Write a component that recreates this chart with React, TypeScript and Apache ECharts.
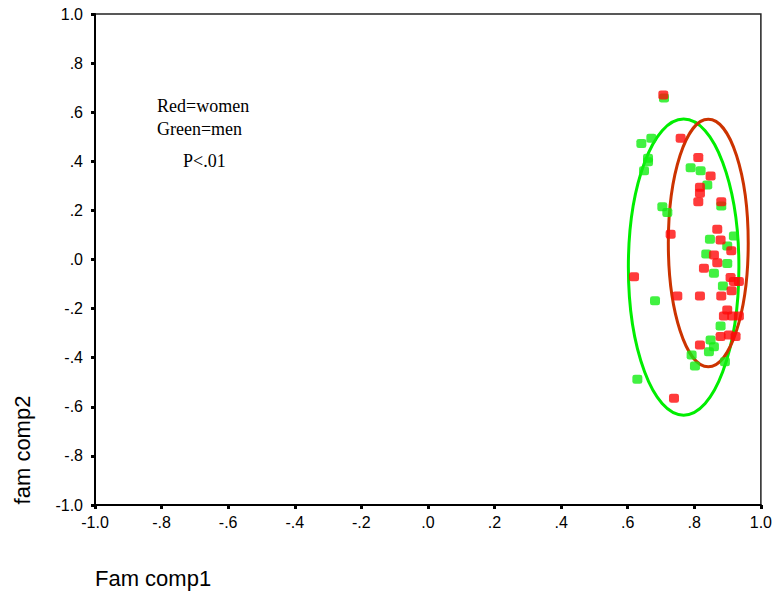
import React, { useEffect, useRef } from "react";
import * as echarts from "echarts";

// Women (red) points: [Fam comp1, fam comp2]
const womenPoints: number[][] = [
  [0.707, 0.670], [0.759, 0.494], [0.812, 0.415], [0.849, 0.340], [0.817, 0.294],
  [0.817, 0.270], [0.812, 0.235], [0.881, 0.235], [0.729, 0.103], [0.869, 0.123],
  [0.879, 0.079], [0.911, 0.036], [0.859, 0.018], [0.869, -0.013], [0.829, -0.036],
  [0.619, -0.070], [0.909, -0.073], [0.919, -0.090], [0.934, -0.090], [0.912, -0.127],
  [0.749, -0.149], [0.817, -0.149], [0.881, -0.149], [0.899, -0.206], [0.889, -0.230],
  [0.914, -0.230], [0.934, -0.230], [0.879, -0.314], [0.904, -0.308], [0.924, -0.314],
  [0.817, -0.348], [0.739, -0.565],
];

// Men (green) points
const menPoints: number[][] = [
  [0.709, 0.658], [0.671, 0.494], [0.641, 0.473], [0.661, 0.412], [0.661, 0.398],
  [0.649, 0.362], [0.789, 0.374], [0.819, 0.362], [0.839, 0.303], [0.881, 0.218],
  [0.704, 0.215], [0.719, 0.191], [0.919, 0.096], [0.847, 0.082], [0.899, 0.055],
  [0.836, 0.022], [0.899, -0.016], [0.859, -0.056], [0.886, -0.108], [0.682, -0.168],
  [0.879, -0.271], [0.849, -0.328], [0.859, -0.355], [0.844, -0.376], [0.792, -0.389],
  [0.802, -0.434], [0.892, -0.416], [0.629, -0.488],
];

// Ellipses: [centerX, centerY, radiusX, radiusY]
const menEllipse: number[][] = [[0.768, -0.031, 0.166, 0.603]];
const womenEllipse: number[][] = [[0.842, 0.067, 0.12, 0.504]];

const xTickLabels = ["-1.0", "-.8", "-.6", "-.4", "-.2", ".0", ".2", ".4", ".6", ".8", "1.0"];
const yTickLabels = ["-1.0", "-.8", "-.6", "-.4", "-.2", ".0", ".2", ".4", ".6", ".8", "1.0"];

const annotations = ["Red=women", "Green=men", "P<.01"];
const xTitle = "Fam comp1";
const yTitle = "fam comp2";

const tickLabel = (labels: string[]) => (v: number) => {
  const i = Math.round((v + 1) / 0.2);
  return labels[i] ?? "";
};

const ellipseRender = (color: string) => (params: any, api: any) => {
  const c = api.coord([api.value(0), api.value(1)]);
  const s = api.size([api.value(2), api.value(3)]);
  return {
    type: "ellipse",
    shape: { cx: c[0], cy: c[1], rx: s[0], ry: s[1] },
    style: { fill: "none", stroke: color, lineWidth: 3 },
  };
};

const serifFont = "18px 'Liberation Serif', 'Times New Roman', serif";
const titleFont = "22px 'Liberation Sans', Arial, sans-serif";

export default function App() {
  const ref = useRef<HTMLDivElement>(null);
  useEffect(() => {
    if (!ref.current) return;
    const chart = echarts.init(ref.current, null, { renderer: "svg" });
    const axisCommon = {
      type: "value" as const,
      min: -1,
      max: 1,
      interval: 0.2,
      splitLine: { show: false },
      axisLine: { show: true, onZero: false, lineStyle: { color: "#000", width: 2 } },
      axisTick: { show: true, length: 4, lineStyle: { color: "#000", width: 3 } },
    };
    chart.setOption({
      animation: false,
      backgroundColor: "#fff",
      grid: {
        left: 95,
        right: 13,
        top: 14,
        bottom: 89,
        show: true,
        borderColor: "#222",
        borderWidth: 1.5,
      },
      xAxis: {
        ...axisCommon,
        axisLabel: {
          formatter: tickLabel(xTickLabels),
          color: "#000",
          fontFamily: "Liberation Sans, Arial, sans-serif",
          fontSize: 16,
          margin: 9,
        },
      },
      yAxis: {
        ...axisCommon,
        axisLabel: {
          formatter: tickLabel(yTickLabels),
          color: "#000",
          fontFamily: "Liberation Sans, Arial, sans-serif",
          fontSize: 16,
          margin: 12,
        },
      },
      series: [
        {
          type: "custom",
          renderItem: ellipseRender("#00ee00"),
          data: menEllipse,
          clip: false,
          z: 1,
        },
        {
          type: "custom",
          renderItem: ellipseRender("#cc3300"),
          data: womenEllipse,
          clip: false,
          z: 1,
        },
        {
          type: "scatter",
          data: menPoints,
          symbol: "roundRect",
          symbolSize: [10, 9],
          itemStyle: { color: "#11ee11" },
          z: 2,
        },
        {
          type: "scatter",
          data: womenPoints,
          symbol: "roundRect",
          symbolSize: [10, 9],
          itemStyle: { color: "#ff0a0a" },
          z: 3,
        },
      ],
      graphic: [
        {
          type: "text",
          x: 157,
          y: 106,
          style: {
            text: annotations[0],
            font: serifFont,
            fill: "#000",
            textAlign: "left",
            textVerticalAlign: "middle",
          },
        },
        {
          type: "text",
          x: 157,
          y: 129,
          style: {
            text: annotations[1],
            font: serifFont,
            fill: "#000",
            textAlign: "left",
            textVerticalAlign: "middle",
          },
        },
        {
          type: "text",
          x: 183,
          y: 161,
          style: {
            text: annotations[2],
            font: serifFont,
            fill: "#000",
            textAlign: "left",
            textVerticalAlign: "middle",
          },
        },
        {
          type: "text",
          x: 95,
          y: 578,
          style: {
            text: xTitle,
            font: titleFont,
            fill: "#000",
            textAlign: "left",
            textVerticalAlign: "middle",
          },
        },
        {
          type: "text",
          x: 22,
          y: 450,
          rotation: Math.PI / 2,
          style: {
            text: yTitle,
            font: titleFont,
            fill: "#000",
            textAlign: "center",
            textVerticalAlign: "middle",
          },
        },
      ],
    });
    return () => chart.dispose();
  }, []);
  return (
    <div
      ref={ref}
      style={{ position: "absolute", left: 0, top: 0, width: 775, height: 594 }}
    />
  );
}
